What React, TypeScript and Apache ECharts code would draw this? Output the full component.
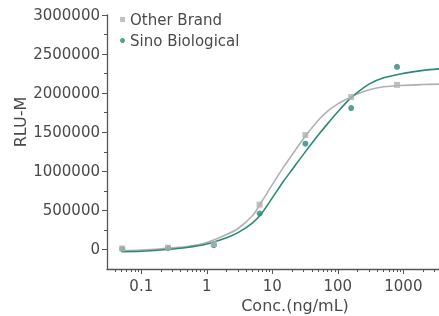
import React, { useEffect, useRef } from "react";
import * as echarts from "echarts";

// Concentrations (ng/mL) of measured points
const concentrations = [0.0512, 0.256, 1.28, 6.4, 32, 160, 800];
// Measured RLU values
const otherBrandRLU = [12000, 22000, 70000, 574000, 1464000, 1950000, 2106000];
const sinoRLU = [6000, 16000, 55000, 460000, 1353000, 1809000, 2336000];

// Fitted curves
const curveConc = [0.05, 0.1, 0.2, 0.5, 1, 2, 3, 5, 7, 10, 15, 20, 30, 50, 70, 100, 150, 200, 300, 500, 1000, 2000, 3500];
const otherBrandCurve = [-13000, -6000, 10000, 38000, 89000, 191000, 268000, 434000, 620000, 830000, 1060000, 1210000, 1420000, 1650000, 1770000, 1862000, 1940000, 1991000, 2043000, 2081000, 2100000, 2110000, 2115000];
const sinoCurve = [-29000, -23000, -6000, 26000, 70000, 150000, 215000, 340000, 470000, 660000, 880000, 1020000, 1220000, 1460000, 1610000, 1762000, 1920000, 2010000, 2115000, 2196000, 2253000, 2292000, 2311000];

// Axis ticks
const xMajorTicks = [0.1, 1, 10, 100, 1000];
const xMinorTicks = [0.04, 0.05, 0.06, 0.07, 0.08, 0.09, 0.2, 0.3, 0.4, 0.5, 0.6, 0.7, 0.8, 0.9, 2, 3, 4, 5, 6, 7, 8, 9, 20, 30, 40, 50, 60, 70, 80, 90, 200, 300, 400, 500, 600, 700, 800, 900, 2000, 3000];
const yMajorTicks = [0, 500000, 1000000, 1500000, 2000000, 2500000, 3000000];
const yMinorTicks = [250000, 750000, 1250000, 1750000, 2250000, 2750000];

const seriesNames = ["Other Brand", "Sino Biological"];
const xName = "Conc.(ng/mL)";
const yName = "RLU-M";

const GRAY = "#b1b1b1";
const GREEN = "#2b8a76";
const AXIS = "#555555";
const TEXT = "#4a4a4a";
const FONT = "DejaVu Sans";

const X_MIN = 0.03;
const X_MAX = 3500;
const Y_MIN = -250000;
const Y_MAX = 3000000;

export default function App() {
  const ref = useRef<HTMLDivElement>(null);
  useEffect(() => {
    if (!ref.current) return;
    const chart = echarts.init(ref.current, null, { renderer: "svg" });
    const pair = (xs: number[], ys: number[]) => xs.map((x, i) => [x, ys[i]]);
    const baseX = {
      type: "log" as const,
      logBase: 10,
      min: X_MIN,
      max: X_MAX,
      position: "bottom" as const,
      splitLine: { show: false },
      minorTick: { show: false },
    };
    const baseY = {
      type: "value" as const,
      min: Y_MIN,
      max: Y_MAX,
      position: "left" as const,
      splitLine: { show: false },
    };
    const tickOnly = (length: number, values: number[]) => ({
      axisLine: { show: false, onZero: false },
      axisTick: { show: true, length, customValues: values, lineStyle: { color: AXIS, width: 1 } },
      axisLabel: { show: false },
    });
    chart.setOption({
      animation: false,
      grid: { left: 107, top: 15, right: 0, bottom: 47, containLabel: false, outerBoundsMode: "none" },
      legend: {
        orient: "vertical",
        left: 115,
        top: 7,
        itemWidth: 5,
        itemHeight: 5,
        itemGap: 6,
        textStyle: { fontFamily: FONT, fontSize: 15, color: TEXT },
        data: [
          { name: seriesNames[0], icon: "rect", itemStyle: { color: GRAY } },
          { name: seriesNames[1], icon: "circle", itemStyle: { color: GREEN } },
        ],
      },
      xAxis: [
        {
          ...baseX,
          axisLine: { show: true, onZero: false, lineStyle: { color: AXIS, width: 1.3 } },
          axisTick: { show: false },
          axisLabel: {
            show: true,
            customValues: xMajorTicks,
            margin: 9,
            fontFamily: FONT,
            fontSize: 15,
            color: TEXT,
            formatter: (v: number) => String(v),
          },
        },
        { ...baseX, ...tickOnly(5, xMajorTicks) },
        { ...baseX, ...tickOnly(3, xMinorTicks) },
      ],
      yAxis: [
        {
          ...baseY,
          axisLine: { show: true, onZero: false, lineStyle: { color: AXIS, width: 1.3 } },
          axisTick: { show: false },
          axisLabel: {
            show: true,
            customValues: yMajorTicks,
            margin: 7,
            fontFamily: FONT,
            fontSize: 15,
            color: TEXT,
            formatter: (v: number) => String(v),
          },
        },
        { ...baseY, ...tickOnly(5, yMajorTicks) },
        { ...baseY, ...tickOnly(3, yMinorTicks) },
      ],
      graphic: [
        {
          type: "text",
          x: 295,
          y: 305,
          style: { text: xName, fontFamily: FONT, fontSize: 16, fill: TEXT, align: "center", verticalAlign: "middle" },
        },
        {
          type: "text",
          x: 20,
          y: 122,
          rotation: Math.PI / 2,
          style: { text: yName, fontFamily: FONT, fontSize: 16, fill: TEXT, align: "center", verticalAlign: "middle" },
        },
      ],
      series: [
        {
          type: "line",
          name: seriesNames[0] + " fit",
          data: pair(curveConc, otherBrandCurve),
          smooth: 0.3,
          showSymbol: false,
          symbol: "none",
          lineStyle: { color: GRAY, width: 1.6 },
          itemStyle: { color: GRAY },
          z: 2,
        },
        {
          type: "line",
          name: seriesNames[1] + " fit",
          data: pair(curveConc, sinoCurve),
          smooth: 0.3,
          showSymbol: false,
          symbol: "none",
          lineStyle: { color: GREEN, width: 1.6 },
          itemStyle: { color: GREEN },
          z: 2,
        },
        {
          type: "scatter",
          name: seriesNames[1],
          data: pair(concentrations, sinoRLU),
          symbol: "circle",
          symbolSize: 6,
          itemStyle: { color: GREEN },
          z: 3,
        },
        {
          type: "scatter",
          name: seriesNames[0],
          data: pair(concentrations, otherBrandRLU),
          symbol: "rect",
          symbolSize: 6,
          itemStyle: { color: GRAY },
          z: 4,
        },
      ],
    });
    return () => chart.dispose();
  }, []);
  return <div ref={ref} style={{ position: "fixed", left: 0, top: 0, width: 439, height: 316 }} />;
}
